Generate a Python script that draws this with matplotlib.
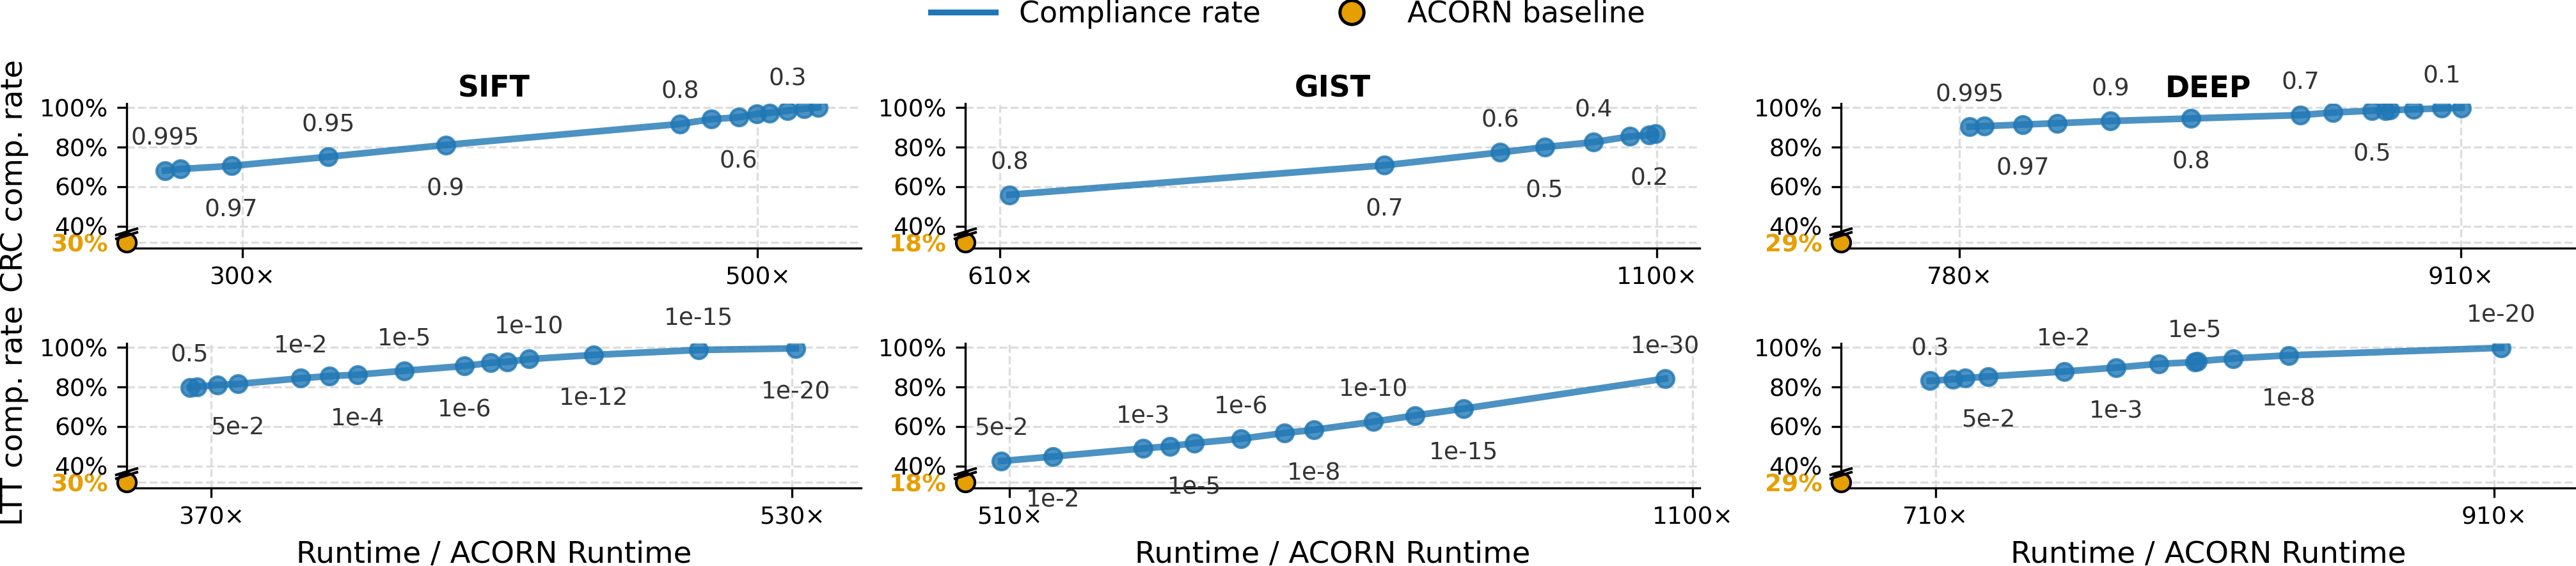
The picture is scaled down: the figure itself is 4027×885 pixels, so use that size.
import matplotlib
matplotlib.use('Agg')
import matplotlib.pyplot as plt
from matplotlib.lines import Line2D

# ---- data ----
datasets = ['SIFT', 'GIST', 'DEEP']
baseline = [30, 18, 29]  # ACORN baseline compliance [%]

# CRC rows
crc_sift_x = [270, 276, 295.7, 333.3, 378.9, 469.8, 481.9, 492.6, 499.7, 504.7, 511.6, 518, 523.5]
crc_sift_y = [68.1, 68.9, 70.5, 75.1, 81.1, 91.7, 94.1, 95.1, 96.8, 97.3, 98.4, 99.4, 100]
crc_sift_lab = ['0.995', '', '0.97', '0.95', '0.9', '0.8', '', '0.6', '', '', '0.3', '', '']

crc_gist_x = [617, 896.8, 983.0, 1016.3, 1052.8, 1079.9, 1094.3, 1099.2]
crc_gist_y = [55.9, 70.8, 77.3, 80.0, 82.5, 85.4, 86.2, 86.7]
crc_gist_lab = ['0.8', '0.7', '0.6', '0.5', '0.4', '', '0.2', '']

crc_deep_x = [782.6, 786.4, 796.4, 805.4, 819.1, 840.0, 868.4, 876.8, 886.9, 890.4, 891.5, 897.6, 905.0, 910.1]
crc_deep_y = [90.3, 90.6, 91.4, 92.1, 93.2, 94.5, 96.2, 97.5, 98.4, 98.6, 98.7, 99.1, 99.6, 99.9]
crc_deep_lab = ['0.995', '', '0.97', '', '0.9', '0.8', '0.7', '', '0.5', '', '', '', '0.1', '']

# LTT rows
ltt_sift_x = [364.1, 366.1, 371.8, 377.3, 394.7, 402.6, 410.3, 423.2, 439.8, 447.0, 451.5, 457.6, 475.4, 504.2, 531.0]
ltt_sift_y = [79.8, 80.1, 81.0, 81.5, 84.4, 85.5, 86.2, 88.2, 90.6, 92.2, 92.7, 94.1, 96.2, 98.7, 99.5]
ltt_sift_lab = ['0.5', '', '', '5e-2', '1e-2', '', '1e-4', '1e-5', '1e-6', '', '', '1e-10', '1e-12', '1e-15', '1e-20']

ltt_gist_x = [502.8, 547.5, 625.3, 648.6, 669.5, 709.8, 747.3, 772.9, 824.2, 860.3, 902.1, 1075.8]
ltt_gist_y = [42.5, 44.8, 48.9, 50.0, 51.6, 53.8, 56.7, 58.3, 62.4, 65.6, 69.0, 84.2]
ltt_gist_lab = ['5e-2', '1e-2', '1e-3', '', '1e-5', '1e-6', '', '1e-8', '1e-10', '', '1e-15', '1e-30']

ltt_deep_x = [708.0, 716.3, 720.7, 728.9, 756.0, 774.7, 789.9, 802.7, 803.7, 816.5, 836.4, 912.5]
ltt_deep_y = [83.1, 83.9, 84.4, 85.3, 87.8, 89.8, 91.7, 92.5, 93.0, 94.4, 96.0, 99.8]
ltt_deep_lab = ['0.3', '', '', '5e-2', '1e-2', '1e-3', '', '1e-5', '', '', '1e-8', '1e-20']

xticks = [[[300, 500], [610, 1100], [780, 910]],
          [[370, 530], [510, 1100], [710, 910]]]
xlims = [[(255.1, 540.1), (584, 1132), (749.3, 939.6)],
         [(346.7, 549.0), (471.8, 1105.9), (676.2, 939.0)]]

rows = [[(crc_sift_x, crc_sift_y, crc_sift_lab),
         (crc_gist_x, crc_gist_y, crc_gist_lab),
         (crc_deep_x, crc_deep_y, crc_deep_lab)],
        [(ltt_sift_x, ltt_sift_y, ltt_sift_lab),
         (ltt_gist_x, ltt_gist_y, ltt_gist_lab),
         (ltt_deep_x, ltt_deep_y, ltt_deep_lab)]]
row_names = ['CRC comp. rate', 'LTT comp. rate']

# ---- style ----
W, H = 4027, 885
blue = '#1f77b4'
orange = '#E69F00'
base_pos = 31.8   # where the baseline is drawn below the axis break
ymin, ymax = 29, 102.1
tick_fs = 9
big_fs = 11.2

fig = plt.figure(figsize=(W / 300., H / 300.), dpi=300)

lefts = [198, 1509, 2878]
ax_w = 1148
tops = [161.7, 536.7]
ax_h = 226

for r in range(2):
    for c in range(3):
        ax = fig.add_axes([lefts[c] / W, 1 - (tops[r] + ax_h) / H, ax_w / W, ax_h / H])
        xs, ys, labs = rows[r][c]

        ax.plot(xs, ys, c=blue, lw=2.5, alpha=0.8, marker='o', ms=6.5, zorder=3)

        # threshold labels, alternating above / below
        k = 0
        for x, y, lab in zip(xs, ys, labs):
            if lab == '':
                continue
            dy = 12 if k % 2 == 0 else -16.5
            ax.annotate(lab, (x, y), xytext=(0, dy), textcoords='offset points',
                        ha='center', va='center', fontsize=tick_fs, color='#333333',
                        annotation_clip=False, zorder=4)
            k += 1

        ax.set_xlim(*xlims[r][c])
        ax.set_ylim(ymin, ymax)

        # baseline dot sitting on the y-axis
        ax.plot([xlims[r][c][0]], [base_pos], marker='o', ms=7, mfc=orange, mec='k',
                mew=1.0, clip_on=False, zorder=6, ls='none')

        ax.set_yticks([base_pos, 40, 60, 80, 100])
        ax.set_yticklabels(['{:d}%'.format(baseline[c]), '40%', '60%', '80%', '100%'])
        lab0 = ax.get_yticklabels()[0]
        lab0.set_color(orange)
        lab0.set_fontweight('bold')
        ax.set_xticks(xticks[r][c])
        ax.set_xticklabels(['{:d}\u00d7'.format(v) for v in xticks[r][c]])
        ax.tick_params(labelsize=tick_fs, width=0.8, length=3.5)

        ax.grid(True, ls='--', color='#dddddd', lw=0.8)
        ax.set_axisbelow(True)
        ax.spines['top'].set_visible(False)
        ax.spines['right'].set_visible(False)
        ax.spines['left'].set_linewidth(0.8)
        ax.spines['bottom'].set_linewidth(0.8)

        # axis break marks
        yb = (36.2 - ymin) / (ymax - ymin)
        for off in (-0.013, 0.013):
            ax.plot([-0.014, 0.014], [yb + off - 0.022, yb + off + 0.022],
                    transform=ax.transAxes, c='k', lw=1.0, clip_on=False, zorder=7)

        if r == 0:
            ax.set_title(datasets[c], fontsize=11, fontweight='bold', pad=1)
        if r == 1:
            ax.set_xlabel('Runtime / ACORN Runtime', fontsize=big_fs)
        if c == 0:
            ax.set_ylabel(row_names[r], fontsize=big_fs)
            ax.yaxis.set_label_coords(-0.133, 0.5)

handles = [Line2D([0], [0], c=blue, lw=2.2),
           Line2D([0], [0], ls='none', marker='o', ms=9, mfc=orange, mec='k', mew=1.2)]
fig.legend(handles, ['Compliance rate', 'ACORN baseline'], loc='center',
           bbox_to_anchor=(0.5, 0.975), ncol=2, frameon=False, fontsize=11,
           handlelength=2.2, columnspacing=2.0)

plt.savefig('out.png', dpi=300)
